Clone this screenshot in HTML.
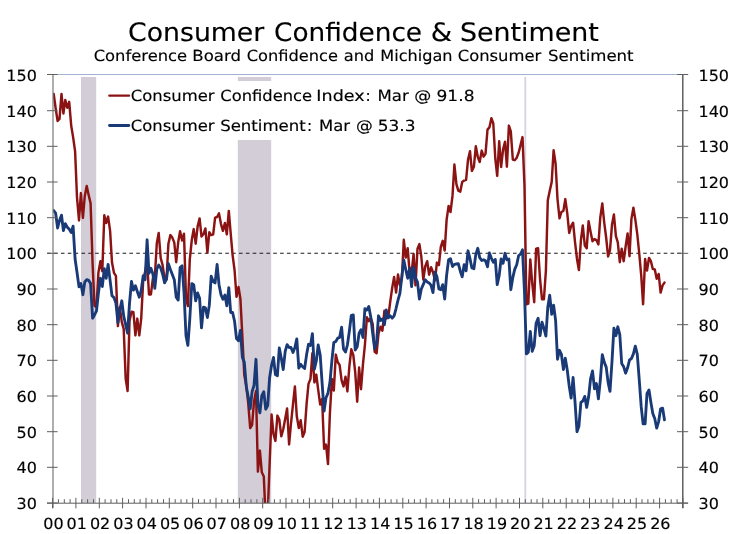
<!DOCTYPE html>
<html><head><meta charset="utf-8"><title>Consumer Confidence &amp; Sentiment</title>
<style>html,body{margin:0;padding:0;background:#fff;}svg{display:block;will-change:transform;}text{text-rendering:geometricPrecision;}text{font-family:"DejaVu Sans", "Liberation Sans", sans-serif;fill:#000;stroke:#000;stroke-width:0.15px;}</style></head><body>
<svg width="731" height="534" viewBox="0 0 731 534">
<rect x="0" y="0" width="731" height="534" fill="#ffffff"/>
<defs><clipPath id="cp"><rect x="53" y="75" width="630" height="428"/></clipPath></defs>
<rect x="81" y="77" width="15.2" height="426" fill="#d2cdd6"/>
<rect x="237.8" y="77" width="33.4" height="426" fill="#d2cdd6"/>
<rect x="524.4" y="77" width="1.8" height="426" fill="#d6d2de"/>
<rect x="104" y="81" width="376" height="59" fill="#ffffff"/>
<line x1="53" y1="74.5" x2="683" y2="74.5" stroke="#a2b5d2" stroke-width="1"/>
<line x1="47.2" y1="253.3" x2="683" y2="253.3" stroke="#1a1a1a" stroke-width="1.1" stroke-dasharray="3.6 3.25"/>
<g clip-path="url(#cp)" fill="none" stroke-linejoin="round" stroke-linecap="round">
<polyline id="cb" points="53.7,93.9 55.6,107.8 57.6,121.0 59.5,118.9 61.5,93.9 63.4,113.5 65.3,100.0 67.3,107.8 69.2,101.8 71.2,125.6 73.1,137.1 75.1,151.3 77.0,197.3 79.0,220.5 80.9,193.1 82.9,218.0 84.8,195.9 86.7,185.9 88.7,195.2 90.6,203.4 92.6,264.0 94.5,305.8 96.5,307.2 98.4,272.6 100.4,261.2 102.3,271.2 104.3,215.2 106.2,223.0 108.1,216.6 110.1,230.9 112.0,262.6 114.0,272.9 115.9,275.8 117.9,326.1 119.8,307.2 121.8,322.2 123.7,328.9 125.7,378.9 127.6,391.0 129.5,321.1 131.5,311.8 133.4,312.2 135.4,335.4 137.3,318.6 139.3,335.4 141.2,318.6 143.2,280.1 145.1,271.9 147.1,261.5 149.0,294.4 150.9,294.4 152.9,278.3 154.8,277.9 156.8,243.3 158.7,233.0 160.7,258.0 162.6,265.1 164.6,278.7 166.5,279.7 168.4,243.7 170.4,235.1 172.3,237.6 174.3,242.6 176.2,262.2 178.2,242.3 180.1,231.2 182.1,240.5 184.0,233.7 186.0,297.9 187.9,306.1 189.8,259.4 191.8,239.8 193.7,229.1 195.7,243.7 197.6,226.6 199.6,218.4 201.5,236.6 203.5,234.1 205.4,228.4 207.4,252.6 209.3,232.3 211.2,235.1 213.2,234.4 215.1,217.7 217.1,217.0 219.0,213.4 221.0,224.1 222.9,230.9 224.9,223.0 226.8,234.4 228.8,210.9 230.7,233.4 232.6,255.1 234.6,270.5 236.5,296.8 238.5,286.9 240.4,298.6 242.4,337.5 244.3,375.0 246.3,386.0 248.2,402.8 250.2,428.1 252.1,424.9 254.0,401.4 256.0,391.0 257.9,471.6 259.9,450.6 261.8,472.3 263.8,476.6 265.7,519.8 267.7,514.1 269.6,464.5 271.6,414.5 273.5,434.2 275.4,440.9 277.4,415.6 279.3,419.5 281.3,436.3 283.2,429.5 285.2,418.8 287.1,408.5 289.1,444.5 291.0,423.5 293.0,404.2 294.9,386.4 296.8,416.3 298.8,428.1 300.7,420.3 302.7,436.7 304.6,432.0 306.6,403.8 308.5,383.9 310.5,378.9 312.4,353.2 314.4,382.4 316.3,374.6 318.2,389.9 320.2,404.6 322.1,398.9 324.1,448.8 326.0,444.5 328.0,464.1 329.9,413.1 331.9,378.9 333.8,390.6 335.8,354.6 337.7,362.1 339.6,365.0 341.6,380.3 343.5,386.4 345.5,376.7 347.4,391.4 349.4,366.0 351.3,349.3 353.3,355.0 355.2,372.1 357.2,401.7 359.1,367.5 361.0,389.2 363.0,363.9 364.9,345.0 366.9,317.2 368.8,321.1 370.8,318.2 372.7,324.0 374.7,351.8 376.6,353.2 378.5,333.6 380.5,326.8 382.4,330.7 384.4,310.8 386.3,318.6 388.3,316.8 390.2,301.8 392.2,287.9 394.1,276.9 396.1,292.6 398.0,274.4 399.9,285.4 401.9,277.9 403.8,239.8 405.8,257.6 407.7,248.3 409.7,273.7 411.6,272.6 413.6,254.0 415.5,285.4 417.5,248.7 419.4,244.1 421.3,256.5 423.3,279.7 425.2,266.5 427.2,261.2 429.1,274.7 431.1,267.2 433.0,272.2 435.0,280.4 436.9,262.6 438.9,265.1 440.8,246.9 442.7,240.8 444.7,250.5 446.6,219.8 448.6,205.9 450.5,212.0 452.5,195.9 454.4,164.5 456.4,184.1 458.3,190.6 460.3,191.6 462.2,182.0 464.1,180.6 466.1,179.9 468.0,159.9 470.0,151.3 471.9,170.9 473.9,166.7 475.8,146.3 477.8,157.0 479.7,162.0 481.7,150.6 483.6,156.7 485.5,153.8 487.5,129.6 489.4,127.4 491.4,118.2 493.3,123.5 495.3,158.5 497.2,175.9 499.2,141.3 501.1,167.0 503.1,149.2 505.0,141.7 506.9,166.7 508.9,125.6 510.8,131.4 512.8,159.5 514.7,160.2 516.7,157.7 518.6,152.8 520.6,144.9 522.5,137.1 524.5,186.3 526.4,304.3 528.3,303.6 530.3,259.4 532.2,282.9 534.2,302.2 536.1,248.7 538.1,248.3 540.0,278.7 542.0,299.3 543.9,299.3 545.9,270.5 547.8,200.2 549.7,190.9 551.7,182.0 553.6,150.3 555.6,163.8 557.5,199.1 559.5,218.4 561.4,212.0 563.4,210.9 565.3,199.1 567.3,213.7 569.2,233.0 571.1,226.2 573.1,222.7 575.0,241.9 577.0,259.0 578.9,270.1 580.9,240.5 582.8,225.5 584.8,245.5 586.7,248.3 588.6,221.2 590.6,231.9 592.5,241.2 594.5,239.1 596.4,240.1 598.4,244.4 600.3,217.3 602.3,203.4 604.2,222.3 606.2,238.0 608.1,256.5 610.0,249.8 612.0,224.8 613.9,214.5 615.9,236.2 617.8,242.3 619.8,262.2 621.7,248.7 623.7,261.2 625.6,246.6 627.6,233.4 629.5,256.2 631.4,219.1 633.4,207.7 635.3,219.4 637.3,234.4 639.2,253.0 641.2,275.1 643.1,304.3 645.1,259.0 647.0,270.5 649.0,258.0 650.9,261.2 652.8,269.0 654.8,269.4 656.7,278.7 658.7,274.0 660.6,292.6 662.6,285.4 664.5,282.6" stroke="#8c1313" stroke-width="2.45"/>
<polyline id="um" points="53.7,210.5 55.6,213.0 57.6,228.0 59.5,220.5 61.5,215.2 63.4,230.5 65.3,223.7 67.3,227.3 69.2,229.1 71.2,232.6 73.1,226.2 75.1,259.0 77.0,272.2 79.0,286.9 80.9,283.6 82.9,294.7 84.8,281.9 86.7,279.7 88.7,280.4 90.6,283.6 92.6,318.2 94.5,315.0 96.5,310.8 98.4,293.3 100.4,278.3 102.3,286.5 104.3,268.7 106.2,278.3 108.1,264.4 110.1,280.4 112.0,295.8 114.0,297.6 115.9,302.9 117.9,322.5 119.8,309.7 121.8,300.8 123.7,316.1 125.7,325.0 127.6,333.2 129.5,303.3 131.5,281.5 133.4,290.1 135.4,285.8 137.3,291.5 139.3,297.2 141.2,290.4 143.2,275.8 145.1,279.7 147.1,239.8 149.0,273.3 150.9,268.3 152.9,274.0 154.8,288.3 156.8,269.0 158.7,265.1 160.7,268.0 162.6,274.0 164.6,282.9 166.5,279.0 168.4,263.7 170.4,269.4 172.3,274.4 174.3,279.7 176.2,297.2 178.2,300.1 180.1,267.6 182.1,265.8 184.0,292.2 186.0,335.7 187.9,345.4 189.8,319.0 191.8,283.6 193.7,284.7 195.7,300.8 197.6,292.9 199.6,298.3 201.5,327.9 203.5,307.2 205.4,307.9 207.4,317.5 209.3,305.4 211.2,276.2 213.2,281.5 215.1,282.9 217.1,264.4 219.0,284.4 221.0,294.7 222.9,299.3 224.9,295.1 226.8,305.8 228.8,287.6 230.7,312.5 232.6,312.5 234.6,321.5 236.5,338.6 238.5,340.7 240.4,330.4 242.4,357.5 244.3,362.1 246.3,386.7 248.2,396.7 250.2,408.8 252.1,391.7 254.0,385.3 256.0,359.3 257.9,404.6 259.9,412.8 261.8,395.6 263.8,391.7 265.7,409.2 267.7,405.6 269.6,377.8 271.6,365.0 273.5,357.5 275.4,374.6 277.4,375.7 279.3,347.9 281.3,358.2 283.2,369.6 285.2,351.4 287.1,344.6 289.1,347.5 291.0,347.5 293.0,352.5 294.9,347.5 296.8,338.9 298.8,368.2 300.7,364.3 302.7,366.8 304.6,368.5 306.6,354.6 308.5,344.3 310.5,345.4 312.4,333.6 314.4,369.2 316.3,361.0 318.2,345.0 320.2,355.0 322.1,382.8 324.1,411.0 326.0,397.8 328.0,393.1 329.9,382.8 331.9,360.7 333.8,342.5 335.8,341.4 337.7,338.2 339.6,337.5 341.6,327.2 343.5,348.9 345.5,352.1 347.4,345.0 349.4,330.7 351.3,315.4 353.3,315.0 355.2,350.0 357.2,346.8 359.1,333.2 361.0,329.7 363.0,337.5 364.9,308.6 366.9,310.0 368.8,306.5 370.8,317.2 372.7,333.6 374.7,348.9 376.6,342.1 378.5,315.8 380.5,320.4 382.4,319.0 384.4,324.7 386.3,310.0 388.3,317.9 390.2,315.8 392.2,318.2 394.1,315.8 396.1,308.3 398.0,300.1 399.9,293.3 401.9,276.2 403.8,260.1 405.8,269.7 407.7,278.3 409.7,268.0 411.6,286.5 413.6,267.2 415.5,277.9 417.5,282.2 419.4,299.0 421.3,289.0 423.3,284.4 425.2,279.7 427.2,281.9 429.1,282.9 431.1,285.4 433.0,292.6 435.0,272.2 436.9,276.5 438.9,289.0 440.8,289.7 442.7,284.7 444.7,299.0 446.6,275.4 448.6,259.8 450.5,258.7 452.5,266.5 454.4,264.4 456.4,264.0 458.3,263.7 460.3,271.2 462.2,276.9 464.1,264.7 466.1,270.8 468.0,250.8 470.0,258.7 471.9,268.0 473.9,268.7 475.8,254.4 477.8,248.3 479.7,257.6 481.7,260.5 483.6,259.8 485.5,260.8 487.5,266.9 489.4,253.0 491.4,258.3 493.3,262.2 495.3,259.4 497.2,284.7 499.2,275.4 501.1,259.0 503.1,263.3 505.0,253.3 506.9,259.8 508.9,259.0 510.8,289.7 512.8,277.6 514.7,269.4 516.7,264.7 518.6,255.8 520.6,254.0 522.5,249.8 524.5,292.2 526.4,353.9 528.3,352.1 530.3,331.4 532.2,351.4 534.2,345.7 536.1,323.2 538.1,318.2 540.0,335.7 542.0,322.2 543.9,328.2 545.9,336.1 547.8,307.2 549.7,295.1 551.7,314.3 553.6,305.1 555.6,320.4 557.5,359.3 559.5,350.3 561.4,354.3 563.4,369.6 565.3,358.2 567.3,370.3 569.2,386.0 571.1,398.1 573.1,377.5 575.0,401.7 577.0,431.7 578.9,426.3 580.9,402.4 582.8,401.0 584.8,396.4 586.7,407.4 588.6,397.1 590.6,378.5 592.5,371.0 594.5,388.9 596.4,383.5 598.4,398.9 600.3,380.3 602.3,354.6 604.2,362.1 606.2,367.1 608.1,382.4 610.0,391.4 612.0,361.4 613.9,328.2 615.9,335.7 617.8,326.8 619.8,334.7 621.7,363.5 623.7,366.8 625.6,373.2 627.6,367.8 629.5,360.0 631.4,358.6 633.4,353.9 635.3,346.1 637.3,354.3 639.2,379.2 641.2,406.7 643.1,423.8 645.1,423.8 647.0,393.5 649.0,389.9 650.9,402.4 652.8,413.5 654.8,418.8 656.7,428.1 658.7,421.3 660.6,408.8 662.6,408.1 664.5,419.9" stroke="#193a76" stroke-width="2.85"/>
</g>
<g stroke="#5e5e5e" stroke-width="1">
<line x1="53.0" y1="74.5" x2="53.0" y2="508" stroke="#787878" stroke-width="1.2"/>
<line x1="682.8" y1="75" x2="682.8" y2="508" stroke="#555" stroke-width="1.4"/>
<line x1="47" y1="503.2" x2="688" y2="503.2"/>
<line x1="47" y1="74.5" x2="57.6" y2="74.5"/>
<line x1="677" y1="74.5" x2="688.2" y2="74.5"/>
<line x1="47" y1="110.7" x2="57.6" y2="110.7"/>
<line x1="677" y1="110.7" x2="688.2" y2="110.7"/>
<line x1="47" y1="146.3" x2="57.6" y2="146.3"/>
<line x1="677" y1="146.3" x2="688.2" y2="146.3"/>
<line x1="47" y1="182.0" x2="57.6" y2="182.0"/>
<line x1="677" y1="182.0" x2="688.2" y2="182.0"/>
<line x1="47" y1="217.7" x2="57.6" y2="217.7"/>
<line x1="677" y1="217.7" x2="688.2" y2="217.7"/>
<line x1="47" y1="253.3" x2="57.6" y2="253.3"/>
<line x1="677" y1="253.3" x2="688.2" y2="253.3"/>
<line x1="47" y1="289.0" x2="57.6" y2="289.0"/>
<line x1="677" y1="289.0" x2="688.2" y2="289.0"/>
<line x1="47" y1="324.7" x2="57.6" y2="324.7"/>
<line x1="677" y1="324.7" x2="688.2" y2="324.7"/>
<line x1="47" y1="360.3" x2="57.6" y2="360.3"/>
<line x1="677" y1="360.3" x2="688.2" y2="360.3"/>
<line x1="47" y1="396.0" x2="57.6" y2="396.0"/>
<line x1="677" y1="396.0" x2="688.2" y2="396.0"/>
<line x1="47" y1="431.7" x2="57.6" y2="431.7"/>
<line x1="677" y1="431.7" x2="688.2" y2="431.7"/>
<line x1="47" y1="467.3" x2="57.6" y2="467.3"/>
<line x1="677" y1="467.3" x2="688.2" y2="467.3"/>
<line x1="47" y1="503.0" x2="57.6" y2="503.0"/>
<line x1="677" y1="503.0" x2="688.2" y2="503.0"/>
<line x1="52.6" y1="497.8" x2="52.6" y2="508.4"/>
<line x1="58.4" y1="499.2" x2="58.4" y2="503"/>
<line x1="64.3" y1="499.2" x2="64.3" y2="503"/>
<line x1="70.1" y1="499.2" x2="70.1" y2="503"/>
<line x1="75.9" y1="497.8" x2="75.9" y2="508.4"/>
<line x1="81.8" y1="499.2" x2="81.8" y2="503"/>
<line x1="87.6" y1="499.2" x2="87.6" y2="503"/>
<line x1="93.5" y1="499.2" x2="93.5" y2="503"/>
<line x1="99.3" y1="497.8" x2="99.3" y2="508.4"/>
<line x1="105.1" y1="499.2" x2="105.1" y2="503"/>
<line x1="111.0" y1="499.2" x2="111.0" y2="503"/>
<line x1="116.8" y1="499.2" x2="116.8" y2="503"/>
<line x1="122.6" y1="497.8" x2="122.6" y2="508.4"/>
<line x1="128.5" y1="499.2" x2="128.5" y2="503"/>
<line x1="134.3" y1="499.2" x2="134.3" y2="503"/>
<line x1="140.1" y1="499.2" x2="140.1" y2="503"/>
<line x1="146.0" y1="497.8" x2="146.0" y2="508.4"/>
<line x1="151.8" y1="499.2" x2="151.8" y2="503"/>
<line x1="157.6" y1="499.2" x2="157.6" y2="503"/>
<line x1="163.5" y1="499.2" x2="163.5" y2="503"/>
<line x1="169.3" y1="497.8" x2="169.3" y2="508.4"/>
<line x1="175.2" y1="499.2" x2="175.2" y2="503"/>
<line x1="181.0" y1="499.2" x2="181.0" y2="503"/>
<line x1="186.8" y1="499.2" x2="186.8" y2="503"/>
<line x1="192.7" y1="497.8" x2="192.7" y2="508.4"/>
<line x1="198.5" y1="499.2" x2="198.5" y2="503"/>
<line x1="204.3" y1="499.2" x2="204.3" y2="503"/>
<line x1="210.2" y1="499.2" x2="210.2" y2="503"/>
<line x1="216.0" y1="497.8" x2="216.0" y2="508.4"/>
<line x1="221.8" y1="499.2" x2="221.8" y2="503"/>
<line x1="227.7" y1="499.2" x2="227.7" y2="503"/>
<line x1="233.5" y1="499.2" x2="233.5" y2="503"/>
<line x1="239.4" y1="497.8" x2="239.4" y2="508.4"/>
<line x1="245.2" y1="499.2" x2="245.2" y2="503"/>
<line x1="251.0" y1="499.2" x2="251.0" y2="503"/>
<line x1="256.9" y1="499.2" x2="256.9" y2="503"/>
<line x1="262.7" y1="497.8" x2="262.7" y2="508.4"/>
<line x1="268.5" y1="499.2" x2="268.5" y2="503"/>
<line x1="274.4" y1="499.2" x2="274.4" y2="503"/>
<line x1="280.2" y1="499.2" x2="280.2" y2="503"/>
<line x1="286.0" y1="497.8" x2="286.0" y2="508.4"/>
<line x1="291.9" y1="499.2" x2="291.9" y2="503"/>
<line x1="297.7" y1="499.2" x2="297.7" y2="503"/>
<line x1="303.6" y1="499.2" x2="303.6" y2="503"/>
<line x1="309.4" y1="497.8" x2="309.4" y2="508.4"/>
<line x1="315.2" y1="499.2" x2="315.2" y2="503"/>
<line x1="321.1" y1="499.2" x2="321.1" y2="503"/>
<line x1="326.9" y1="499.2" x2="326.9" y2="503"/>
<line x1="332.7" y1="497.8" x2="332.7" y2="508.4"/>
<line x1="338.6" y1="499.2" x2="338.6" y2="503"/>
<line x1="344.4" y1="499.2" x2="344.4" y2="503"/>
<line x1="350.2" y1="499.2" x2="350.2" y2="503"/>
<line x1="356.1" y1="497.8" x2="356.1" y2="508.4"/>
<line x1="361.9" y1="499.2" x2="361.9" y2="503"/>
<line x1="367.8" y1="499.2" x2="367.8" y2="503"/>
<line x1="373.6" y1="499.2" x2="373.6" y2="503"/>
<line x1="379.4" y1="497.8" x2="379.4" y2="508.4"/>
<line x1="385.3" y1="499.2" x2="385.3" y2="503"/>
<line x1="391.1" y1="499.2" x2="391.1" y2="503"/>
<line x1="396.9" y1="499.2" x2="396.9" y2="503"/>
<line x1="402.8" y1="497.8" x2="402.8" y2="508.4"/>
<line x1="408.6" y1="499.2" x2="408.6" y2="503"/>
<line x1="414.4" y1="499.2" x2="414.4" y2="503"/>
<line x1="420.3" y1="499.2" x2="420.3" y2="503"/>
<line x1="426.1" y1="497.8" x2="426.1" y2="508.4"/>
<line x1="431.9" y1="499.2" x2="431.9" y2="503"/>
<line x1="437.8" y1="499.2" x2="437.8" y2="503"/>
<line x1="443.6" y1="499.2" x2="443.6" y2="503"/>
<line x1="449.5" y1="497.8" x2="449.5" y2="508.4"/>
<line x1="455.3" y1="499.2" x2="455.3" y2="503"/>
<line x1="461.1" y1="499.2" x2="461.1" y2="503"/>
<line x1="467.0" y1="499.2" x2="467.0" y2="503"/>
<line x1="472.8" y1="497.8" x2="472.8" y2="508.4"/>
<line x1="478.6" y1="499.2" x2="478.6" y2="503"/>
<line x1="484.5" y1="499.2" x2="484.5" y2="503"/>
<line x1="490.3" y1="499.2" x2="490.3" y2="503"/>
<line x1="496.1" y1="497.8" x2="496.1" y2="508.4"/>
<line x1="502.0" y1="499.2" x2="502.0" y2="503"/>
<line x1="507.8" y1="499.2" x2="507.8" y2="503"/>
<line x1="513.7" y1="499.2" x2="513.7" y2="503"/>
<line x1="519.5" y1="497.8" x2="519.5" y2="508.4"/>
<line x1="525.3" y1="499.2" x2="525.3" y2="503"/>
<line x1="531.2" y1="499.2" x2="531.2" y2="503"/>
<line x1="537.0" y1="499.2" x2="537.0" y2="503"/>
<line x1="542.8" y1="497.8" x2="542.8" y2="508.4"/>
<line x1="548.7" y1="499.2" x2="548.7" y2="503"/>
<line x1="554.5" y1="499.2" x2="554.5" y2="503"/>
<line x1="560.3" y1="499.2" x2="560.3" y2="503"/>
<line x1="566.2" y1="497.8" x2="566.2" y2="508.4"/>
<line x1="572.0" y1="499.2" x2="572.0" y2="503"/>
<line x1="577.8" y1="499.2" x2="577.8" y2="503"/>
<line x1="583.7" y1="499.2" x2="583.7" y2="503"/>
<line x1="589.5" y1="497.8" x2="589.5" y2="508.4"/>
<line x1="595.4" y1="499.2" x2="595.4" y2="503"/>
<line x1="601.2" y1="499.2" x2="601.2" y2="503"/>
<line x1="607.0" y1="499.2" x2="607.0" y2="503"/>
<line x1="612.9" y1="497.8" x2="612.9" y2="508.4"/>
<line x1="618.7" y1="499.2" x2="618.7" y2="503"/>
<line x1="624.5" y1="499.2" x2="624.5" y2="503"/>
<line x1="630.4" y1="499.2" x2="630.4" y2="503"/>
<line x1="636.2" y1="497.8" x2="636.2" y2="508.4"/>
<line x1="642.0" y1="499.2" x2="642.0" y2="503"/>
<line x1="647.9" y1="499.2" x2="647.9" y2="503"/>
<line x1="653.7" y1="499.2" x2="653.7" y2="503"/>
<line x1="659.6" y1="497.8" x2="659.6" y2="508.4"/>
<line x1="665.4" y1="499.2" x2="665.4" y2="503"/>
<line x1="671.2" y1="499.2" x2="671.2" y2="503"/>
<line x1="677.1" y1="499.2" x2="677.1" y2="503"/>
<line x1="682.9" y1="497.8" x2="682.9" y2="508.4"/>
</g>
<g font-size="15.33px">
<text x="6.36" y="80.90" textLength="30.54" lengthAdjust="spacingAndGlyphs">150</text>
<text x="698.50" y="80.90" textLength="30.54" lengthAdjust="spacingAndGlyphs">150</text>
<text x="6.36" y="116.57" textLength="30.54" lengthAdjust="spacingAndGlyphs">140</text>
<text x="698.50" y="116.57" textLength="30.54" lengthAdjust="spacingAndGlyphs">140</text>
<text x="6.36" y="152.23" textLength="30.54" lengthAdjust="spacingAndGlyphs">130</text>
<text x="698.50" y="152.23" textLength="30.54" lengthAdjust="spacingAndGlyphs">130</text>
<text x="6.36" y="187.90" textLength="30.54" lengthAdjust="spacingAndGlyphs">120</text>
<text x="698.50" y="187.90" textLength="30.54" lengthAdjust="spacingAndGlyphs">120</text>
<text x="6.36" y="223.57" textLength="30.54" lengthAdjust="spacingAndGlyphs">110</text>
<text x="698.50" y="223.57" textLength="30.54" lengthAdjust="spacingAndGlyphs">110</text>
<text x="6.36" y="259.23" textLength="30.54" lengthAdjust="spacingAndGlyphs">100</text>
<text x="698.50" y="259.23" textLength="30.54" lengthAdjust="spacingAndGlyphs">100</text>
<text x="16.54" y="294.90" textLength="20.36" lengthAdjust="spacingAndGlyphs">90</text>
<text x="698.50" y="294.90" textLength="20.36" lengthAdjust="spacingAndGlyphs">90</text>
<text x="16.54" y="330.57" textLength="20.36" lengthAdjust="spacingAndGlyphs">80</text>
<text x="698.50" y="330.57" textLength="20.36" lengthAdjust="spacingAndGlyphs">80</text>
<text x="16.54" y="366.23" textLength="20.36" lengthAdjust="spacingAndGlyphs">70</text>
<text x="698.50" y="366.23" textLength="20.36" lengthAdjust="spacingAndGlyphs">70</text>
<text x="16.54" y="401.90" textLength="20.36" lengthAdjust="spacingAndGlyphs">60</text>
<text x="698.50" y="401.90" textLength="20.36" lengthAdjust="spacingAndGlyphs">60</text>
<text x="16.54" y="437.57" textLength="20.36" lengthAdjust="spacingAndGlyphs">50</text>
<text x="698.50" y="437.57" textLength="20.36" lengthAdjust="spacingAndGlyphs">50</text>
<text x="16.54" y="473.23" textLength="20.36" lengthAdjust="spacingAndGlyphs">40</text>
<text x="698.50" y="473.23" textLength="20.36" lengthAdjust="spacingAndGlyphs">40</text>
<text x="16.54" y="508.90" textLength="20.36" lengthAdjust="spacingAndGlyphs">30</text>
<text x="698.50" y="508.90" textLength="20.36" lengthAdjust="spacingAndGlyphs">30</text>
</g>
<g font-size="15.33px">
<text x="43.22" y="529.25" textLength="20.36" lengthAdjust="spacingAndGlyphs">00</text>
<text x="66.56" y="529.25" textLength="20.36" lengthAdjust="spacingAndGlyphs">01</text>
<text x="89.91" y="529.25" textLength="20.36" lengthAdjust="spacingAndGlyphs">02</text>
<text x="113.25" y="529.25" textLength="20.36" lengthAdjust="spacingAndGlyphs">03</text>
<text x="136.60" y="529.25" textLength="20.36" lengthAdjust="spacingAndGlyphs">04</text>
<text x="159.94" y="529.25" textLength="20.36" lengthAdjust="spacingAndGlyphs">05</text>
<text x="183.29" y="529.25" textLength="20.36" lengthAdjust="spacingAndGlyphs">06</text>
<text x="206.63" y="529.25" textLength="20.36" lengthAdjust="spacingAndGlyphs">07</text>
<text x="229.98" y="529.25" textLength="20.36" lengthAdjust="spacingAndGlyphs">08</text>
<text x="253.32" y="529.25" textLength="20.36" lengthAdjust="spacingAndGlyphs">09</text>
<text x="276.66" y="529.25" textLength="20.36" lengthAdjust="spacingAndGlyphs">10</text>
<text x="300.01" y="529.25" textLength="20.36" lengthAdjust="spacingAndGlyphs">11</text>
<text x="323.35" y="529.25" textLength="20.36" lengthAdjust="spacingAndGlyphs">12</text>
<text x="346.70" y="529.25" textLength="20.36" lengthAdjust="spacingAndGlyphs">13</text>
<text x="370.04" y="529.25" textLength="20.36" lengthAdjust="spacingAndGlyphs">14</text>
<text x="393.39" y="529.25" textLength="20.36" lengthAdjust="spacingAndGlyphs">15</text>
<text x="416.73" y="529.25" textLength="20.36" lengthAdjust="spacingAndGlyphs">16</text>
<text x="440.08" y="529.25" textLength="20.36" lengthAdjust="spacingAndGlyphs">17</text>
<text x="463.42" y="529.25" textLength="20.36" lengthAdjust="spacingAndGlyphs">18</text>
<text x="486.76" y="529.25" textLength="20.36" lengthAdjust="spacingAndGlyphs">19</text>
<text x="510.11" y="529.25" textLength="20.36" lengthAdjust="spacingAndGlyphs">20</text>
<text x="533.45" y="529.25" textLength="20.36" lengthAdjust="spacingAndGlyphs">21</text>
<text x="556.80" y="529.25" textLength="20.36" lengthAdjust="spacingAndGlyphs">22</text>
<text x="580.14" y="529.25" textLength="20.36" lengthAdjust="spacingAndGlyphs">23</text>
<text x="603.49" y="529.25" textLength="20.36" lengthAdjust="spacingAndGlyphs">24</text>
<text x="626.83" y="529.25" textLength="20.36" lengthAdjust="spacingAndGlyphs">25</text>
<text x="650.18" y="529.25" textLength="20.36" lengthAdjust="spacingAndGlyphs">26</text>
</g>
<line x1="109.3" y1="95.7" x2="129.0" y2="95.7" stroke="#8c1313" stroke-width="2.3" stroke-linecap="round"/>
<line x1="109.5" y1="125.5" x2="128.8" y2="125.5" stroke="#193a76" stroke-width="2.8" stroke-linecap="round"/>
<g font-size="25.4px">
<text x="127.99" y="40.7" textLength="136.34" lengthAdjust="spacingAndGlyphs">Consumer</text>
<text x="274.10" y="40.7" textLength="147.96" lengthAdjust="spacingAndGlyphs">Confidence</text>
<text x="430.74" y="40.7" textLength="21.38" lengthAdjust="spacingAndGlyphs">&amp;</text>
<text x="459.94" y="40.7" textLength="138.87" lengthAdjust="spacingAndGlyphs">Sentiment</text>
</g>
<g font-size="15.33px">
<text x="93.70" y="61.4" textLength="93.41" lengthAdjust="spacingAndGlyphs">Conference</text>
<text x="192.32" y="61.4" textLength="48.69" lengthAdjust="spacingAndGlyphs">Board</text>
<text x="246.79" y="61.4" textLength="91.23" lengthAdjust="spacingAndGlyphs">Confidence</text>
<text x="343.80" y="61.4" textLength="30.51" lengthAdjust="spacingAndGlyphs">and</text>
<text x="380.33" y="61.4" textLength="72.24" lengthAdjust="spacingAndGlyphs">Michigan</text>
<text x="457.76" y="61.4" textLength="83.53" lengthAdjust="spacingAndGlyphs">Consumer</text>
<text x="547.92" y="61.4" textLength="85.71" lengthAdjust="spacingAndGlyphs">Sentiment</text>
</g>
<g font-size="15.33px">
<text x="130.80" y="101.4" textLength="83.83" lengthAdjust="spacingAndGlyphs">Consumer</text>
<text x="220.29" y="101.4" textLength="91.87" lengthAdjust="spacingAndGlyphs">Confidence</text>
<text x="316.36" y="101.4" textLength="48.23" lengthAdjust="spacingAndGlyphs">Index</text>
<text x="365.61" y="101.4">:</text>
<text x="377.55" y="101.4" textLength="31.23" lengthAdjust="spacingAndGlyphs">Mar</text>
<text x="414.27" y="101.4" textLength="17.04" lengthAdjust="spacingAndGlyphs">@</text>
<text x="436.54" y="101.4" textLength="37.95" lengthAdjust="spacingAndGlyphs">91.8</text>
</g>
<g font-size="15.33px">
<text x="130.80" y="130.8" textLength="83.83" lengthAdjust="spacingAndGlyphs">Consumer</text>
<text x="220.15" y="130.8" textLength="85.66" lengthAdjust="spacingAndGlyphs">Sentiment</text>
<text x="306.96" y="130.8">:</text>
<text x="318.94" y="130.8" textLength="31.06" lengthAdjust="spacingAndGlyphs">Mar</text>
<text x="355.94" y="130.8" textLength="16.79" lengthAdjust="spacingAndGlyphs">@</text>
<text x="377.70" y="130.8" textLength="37.74" lengthAdjust="spacingAndGlyphs">53.3</text>
</g>
</svg></body></html>
